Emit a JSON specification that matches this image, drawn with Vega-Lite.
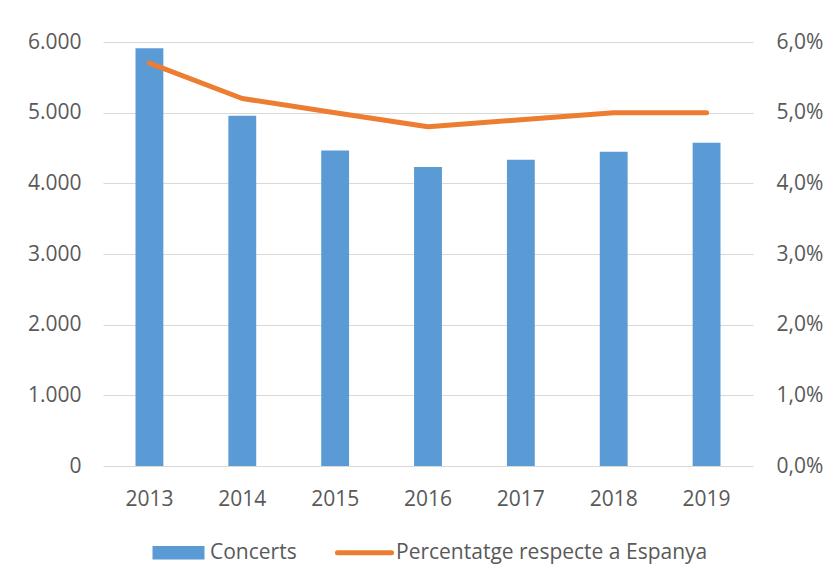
{
  "$schema": "https://vega.github.io/schema/vega-lite/v6.json",
  "autosize": {"type": "none"},
  "padding": {"left": 103, "top": 42, "right": 78, "bottom": 116},
  "width": 650,
  "height": 424,
  "background": "white",
  "config": {
    "locale": {"number": {"decimal": ",", "thousands": ".", "grouping": [3], "currency": ["", " €"]}},
    "view": {"stroke": null},
    "font": "Open Sans",
    "axis": {"labelFont": "Open Sans", "labelFontSize": 21, "labelColor": "#595959", "ticks": false, "domain": false, "title": null}
  },
  "data": {
    "values": [
      {"year": "2013", "concerts": 5910, "pct": 0.057},
      {"year": "2014", "concerts": 4955, "pct": 0.052},
      {"year": "2015", "concerts": 4465, "pct": 0.050},
      {"year": "2016", "concerts": 4232, "pct": 0.048},
      {"year": "2017", "concerts": 4332, "pct": 0.049},
      {"year": "2018", "concerts": 4447, "pct": 0.050},
      {"year": "2019", "concerts": 4575, "pct": 0.050}
    ]
  },
  "encoding": {
    "x": {
      "field": "year", "type": "ordinal",
      "scale": {"paddingInner": 0.7, "paddingOuter": 0.35},
      "axis": {"labelAngle": 0, "labelPadding": 22, "grid": false}
    }
  },
  "layer": [
    {
      "mark": {"type": "bar", "color": "#5B9BD5"},
      "encoding": {
        "y": {
          "field": "concerts", "type": "quantitative",
          "scale": {"domain": [0, 6000], "nice": false},
          "axis": {"orient": "left", "values": [0, 1000, 2000, 3000, 4000, 5000, 6000], "format": ",.0f", "labelPadding": 22, "grid": true, "gridColor": "#D9D9D9", "gridWidth": 1}
        },
        "color": {
          "datum": "Concerts",
          "type": "nominal",
          "scale": {"domain": ["Concerts", "Percentatge respecte a Espanya"], "range": ["#5B9BD5", "#ED7D31"]},
          "legend": {
            "title": null,
            "orient": "none",
            "direction": "horizontal",
            "legendX": 65,
            "legendY": 500,
            "padding": 0,
            "symbolSize": 2704,
            "labelFont": "Open Sans",
            "labelFontSize": 21,
            "labelColor": "#595959",
            "labelOffset": 21,
            "labelLimit": 500,
            "columnPadding": 30,
            "encode": {
              "symbols": {
                "update": {
                  "shape": {"signal": "datum.value === 'Concerts' ? 'M-1,-0.26H1V0.26H-1Z' : 'M-1.04,0H1.04'"},
                  "fill": {"signal": "datum.value === 'Concerts' ? '#5B9BD5' : 'transparent'"},
                  "stroke": {"signal": "datum.value === 'Concerts' ? 'transparent' : '#ED7D31'"},
                  "strokeWidth": {"signal": "datum.value === 'Concerts' ? 0 : 5"},
                  "strokeCap": {"value": "round"},
                  "opacity": {"value": 1}
                }
              }
            }
          }
        }
      }
    },
    {
      "mark": {"type": "line", "color": "#ED7D31", "strokeWidth": 5, "strokeCap": "round", "strokeJoin": "round"},
      "encoding": {
        "y": {
          "field": "pct", "type": "quantitative",
          "scale": {"domain": [0, 0.06], "nice": false},
          "axis": {"orient": "right", "values": [0, 0.01, 0.02, 0.03, 0.04, 0.05, 0.06], "format": ".1%", "labelPadding": 23, "grid": false}
        },
        "color": {"datum": "Percentatge respecte a Espanya", "type": "nominal"}
      }
    }
  ],
  "resolve": {"scale": {"y": "independent"}}
}
